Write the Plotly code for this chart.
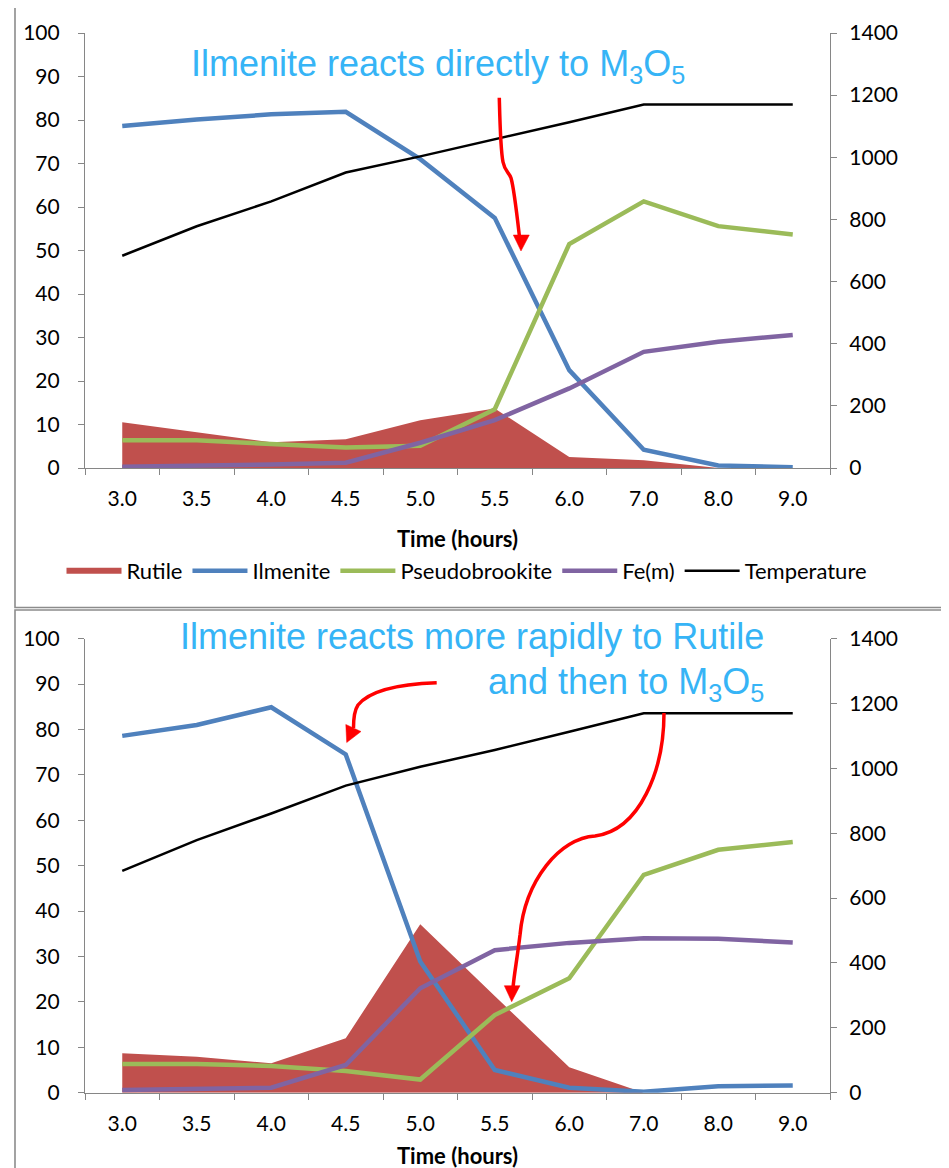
import plotly.graph_objects as go

OFF = 8  # page body margin of the browser
W, H = 949 - OFF, 1168 - OFF

# ---------------- data ----------------
time_labels = ["3.0", "3.5", "4.0", "4.5", "5.0", "5.5", "6.0", "7.0", "8.0", "9.0"]

# top chart
rutile_a = [10.5, 8.2, 5.9, 6.6, 11.0, 13.7, 2.5, 1.8, 0.0, 0.0]
ilmenite_a = [78.6, 80.1, 81.3, 81.9, 71.0, 57.5, 22.5, 4.2, 0.6, 0.2]
pseudo_a = [6.4, 6.4, 5.5, 4.7, 5.1, 13.5, 51.5, 61.3, 55.6, 53.7]
fe_a = [0.3, 0.5, 0.8, 1.2, 5.8, 11.0, 18.3, 26.7, 29.0, 30.6]
temp_a = [683, 778, 858, 951, 1003, 1057, 1113, 1170, 1170, 1170]

# bottom chart
rutile_b = [8.7, 7.9, 6.5, 12.0, 37.1, 21.3, 5.6, 0.0, 0.0, 0.0]
ilmenite_b = [78.6, 81.0, 84.9, 74.5, 28.9, 5.0, 1.1, 0.2, 1.4, 1.6]
pseudo_b = [6.3, 6.3, 5.9, 4.8, 2.9, 17.1, 25.2, 48.0, 53.5, 55.2]
fe_b = [0.6, 0.8, 1.1, 6.1, 23.0, 31.4, 33.0, 34.0, 33.9, 33.1]
temp_b = [684, 779, 861, 947, 1005, 1057, 1113, 1170, 1170, 1170]

left_range = [0, 100]
right_range = [0, 1400]

C_RUT = "#C0504D"
C_ILM = "#4F81BD"
C_PSE = "#9BBB59"
C_FE = "#8064A2"
C_TMP = "#000000"
AX = "#868686"
TXT_BLUE = "#36B4F6"
FONT = "Lato"


def px(x):
    return (x - OFF) / W


def py(y):
    return 1 - (y - OFF) / H


fig = go.Figure()


def add_chart(xa, ya, ya2, rut, ilm, pse, fe, tmp, legend):
    fig.add_trace(go.Scatter(x=time_labels, y=rut, name="Rutile", mode="none",
                             fill="tozeroy", fillcolor=C_RUT, xaxis=xa, yaxis=ya,
                             showlegend=legend))
    fig.add_trace(go.Scatter(x=time_labels, y=ilm, name="Ilmenite", mode="lines",
                             line=dict(color=C_ILM, width=4.5), xaxis=xa, yaxis=ya,
                             showlegend=legend))
    fig.add_trace(go.Scatter(x=time_labels, y=pse, name="Pseudobrookite", mode="lines",
                             line=dict(color=C_PSE, width=4.5), xaxis=xa, yaxis=ya,
                             showlegend=legend))
    fig.add_trace(go.Scatter(x=time_labels, y=fe, name="Fe(m)", mode="lines",
                             line=dict(color=C_FE, width=4.5), xaxis=xa, yaxis=ya,
                             showlegend=legend))
    fig.add_trace(go.Scatter(x=time_labels, y=tmp, name="Temperature", mode="lines",
                             line=dict(color=C_TMP, width=2.5), xaxis=xa, yaxis=ya2,
                             showlegend=legend))


add_chart("x", "y", "y2", rutile_a, ilmenite_a, pseudo_a, fe_a, temp_a, True)
add_chart("x2", "y3", "y4", rutile_b, ilmenite_b, pseudo_b, fe_b, temp_b, False)

xdom = [px(85), px(830)]
top_dom = [py(468), py(33)]
bot_dom = [py(1092.7), py(638.7)]

tickfont = dict(family=FONT, size=21, color="#000000")

xcommon = dict(type="category", range=[-0.5, 9.5], tickson="boundaries",
               ticks="outside", ticklen=6, tickcolor=AX, showline=True,
               linecolor=AX, linewidth=1.2, showgrid=False, zeroline=False,
               tickfont=tickfont, ticklabelstandoff=12, domain=xdom,
               fixedrange=True, automargin=False)
ycommon = dict(showline=True, linecolor=AX, linewidth=1.2, ticks="outside",
               ticklen=6, tickcolor=AX, showgrid=False, zeroline=False,
               tickfont=tickfont, fixedrange=True, automargin=False)

fig.update_layout(
    width=W, height=H,
    margin=dict(l=0, r=0, t=0, b=0, pad=0, autoexpand=False),
    paper_bgcolor="white", plot_bgcolor="rgba(0,0,0,0)",
    xaxis=dict(anchor="y", **xcommon),
    xaxis2=dict(anchor="y3", **xcommon),
    yaxis=dict(domain=top_dom, anchor="x", range=left_range, dtick=10,
               ticklabelstandoff=14, **ycommon),
    yaxis2=dict(domain=top_dom, anchor="x", overlaying="y", side="right",
                range=right_range, dtick=200, ticklabelstandoff=8, **ycommon),
    yaxis3=dict(domain=bot_dom, anchor="x2", range=left_range, dtick=10,
                ticklabelstandoff=14, **ycommon),
    yaxis4=dict(domain=bot_dom, anchor="x2", overlaying="y3", side="right",
                range=right_range, dtick=200, ticklabelstandoff=8, **ycommon),
    legend=dict(orientation="h", x=px(467), xanchor="center", y=py(571),
                yanchor="middle", font=dict(family=FONT, size=22, color="#000000"),
                bgcolor="rgba(0,0,0,0)", itemwidth=55, tracegroupgap=0),
    showlegend=True,
)

annotations = [
    dict(text="Ilmenite reacts directly to M<sub>3</sub>O<sub>5</sub>",
         x=px(438), y=py(66), xanchor="center", yanchor="middle",
         font=dict(family="Liberation Sans", size=36, color=TXT_BLUE)),
    dict(text="Ilmenite reacts more rapidly to Rutile",
         x=px(766), y=py(636), xanchor="right", yanchor="middle",
         font=dict(family="Liberation Sans", size=36, color=TXT_BLUE)),
    dict(text="and then to M<sub>3</sub>O<sub>5</sub>",
         x=px(766), y=py(684), xanchor="right", yanchor="middle",
         font=dict(family="Liberation Sans", size=36, color=TXT_BLUE)),
    dict(text="<b>Time (hours)</b>", x=px(457), y=py(538), xanchor="center",
         yanchor="middle", font=dict(family=FONT, size=22, color="#000000")),
    dict(text="<b>Time (hours)</b>", x=px(457), y=py(1155), xanchor="center",
         yanchor="middle", font=dict(family=FONT, size=22, color="#000000")),
]
for a in annotations:
    a.update(xref="paper", yref="paper", showarrow=False)
fig.update_layout(annotations=annotations)


def path_from(cmds):
    out = []
    for c in cmds:
        if isinstance(c, str):
            out.append(c)
        else:
            out.append(f"{px(c[0]):.5f},{py(c[1]):.5f}")
    return " ".join(out)


RED = "#FF0000"
shapes = []
# panel borders
shapes.append(dict(type="rect", xref="paper", yref="paper", x0=px(15), y0=py(3),
                   x1=px(970), y1=py(607.5), line=dict(color="#8C8C8C", width=1.6)))
shapes.append(dict(type="rect", xref="paper", yref="paper", x0=px(15), y0=py(610),
                   x1=px(970), y1=py(1190), line=dict(color="#8C8C8C", width=1.6)))

# arrow 1 (top)
shapes.append(dict(type="path", xref="paper", yref="paper",
                   path=path_from(["M", (499.3, 97.7), "C", (500, 125), (500.5, 150), (503, 162),
                                   "C", (505, 172), (509, 172), (511, 178),
                                   "C", (514, 188), (517, 215), (519.5, 237)]),
                   line=dict(color=RED, width=3.5)))
shapes.append(dict(type="path", xref="paper", yref="paper",
                   path=path_from(["M", (513.3, 235), "L", (529.3, 235), "L", (521, 251), "Z"]),
                   fillcolor=RED, line=dict(color=RED, width=0.5)))
# arrow 2 (bottom, left)
shapes.append(dict(type="path", xref="paper", yref="paper",
                   path=path_from(["M", (436.7, 682.7), "C", (400, 684), (370, 690), (358, 705),
                                   "C", (354, 711), (353.5, 718), (353.5, 728)]),
                   line=dict(color=RED, width=3.5)))
shapes.append(dict(type="path", xref="paper", yref="paper",
                   path=path_from(["M", (345.8, 724.5), "L", (361, 731.5), "L", (346.7, 742.5), "Z"]),
                   fillcolor=RED, line=dict(color=RED, width=0.5)))
# arrow 3 (bottom, right)
shapes.append(dict(type="path", xref="paper", yref="paper",
                   path=path_from(["M", (664, 713), "C", (664, 770), (640, 830), (595, 836),
                                   "C", (560, 838), (525, 880), (520, 935),
                                   "C", (517, 960), (514, 975), (513, 988)]),
                   line=dict(color=RED, width=3.5)))
shapes.append(dict(type="path", xref="paper", yref="paper",
                   path=path_from(["M", (504.3, 985.7), "L", (520, 985.7), "L", (511.7, 1001.7), "Z"]),
                   fillcolor=RED, line=dict(color=RED, width=0.5)))
fig.update_layout(shapes=shapes)

fig.write_html("out.html")
